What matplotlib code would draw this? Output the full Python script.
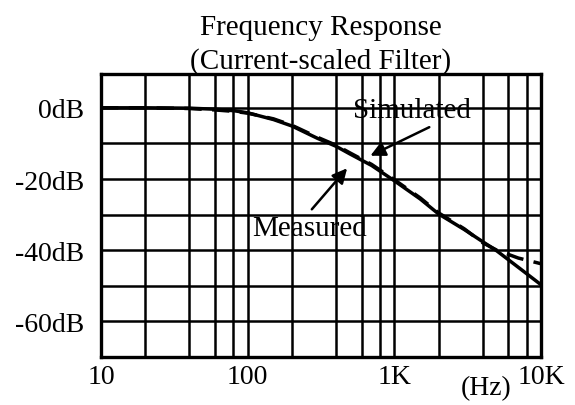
# -*- coding: utf-8 -*-

# Frequency response of the current-scaled filter, simulated vs measured

import matplotlib
matplotlib.use("Agg")
import matplotlib.pyplot as plt


# data (Hz, dB)
freq = [10, 20, 40, 60, 80, 100, 150, 200, 300, 400, 500, 700,
        1000, 1500, 2000, 3000, 4000, 5000, 7000, 10000]
simulated = [0, 0, -0.1, -0.4, -0.8, -1.4, -3.3, -5.1, -8.6, -10.8, -13.0, -16.2,
             -20.5, -25.6, -29.8, -34.2, -37.6, -40.2, -44.8, -49.7]
measured = [0, 0, -0.2, -0.6, -1.0, -1.5, -3.1, -4.9, -8.3, -10.5, -12.7, -15.9,
            -20.2, -25.3, -29.5, -34.0, -37.9, -40.0, -42.2, -43.8]

x_ticks = [10, 100, 1000, 10000]
x_tick_labels = ["10", "100", "1K", "10K"]
y_ticks = [0, -20, -40, -60]
y_tick_labels = ["0dB", "-20dB", "-40dB", "-60dB"]

# grid lines: 2, 4, 6, 8, 10 in each decade; every 10 dB
x_grid = [m * d for d in (10, 100, 1000) for m in (2, 4, 6, 8, 10)]
y_grid = [0, -10, -20, -30, -40, -50, -60]


plt.rcParams['font.family'] = ['Liberation Serif', 'DejaVu Serif']

fig = plt.figure(figsize=(5.75, 4.06), dpi=100)
ax = fig.add_axes([0.1757, 0.1182, 0.7652, 0.6971])

ax.set_xscale('log')
ax.set_xlim(10, 10000)
ax.set_ylim(-70, 9.5)

# grid
for g in x_grid:
    ax.axvline(g, color='black', linewidth=1.8, zorder=1)
for g in y_grid:
    ax.axhline(g, color='black', linewidth=1.8, zorder=1)

# curves
ax.plot(freq, simulated, color='black', linewidth=2.5, zorder=3)
ax.plot(freq, measured, color='black', linewidth=2.5, dashes=(5, 3), zorder=3)

# ticks
ax.set_xticks(x_ticks)
ax.set_xticklabels(x_tick_labels)
ax.set_yticks(y_ticks)
ax.set_yticklabels(y_tick_labels)
ax.xaxis.set_minor_locator(matplotlib.ticker.NullLocator())
ax.tick_params(axis='both', length=0, labelsize=20)
ax.tick_params(axis='x', pad=5)
ax.tick_params(axis='y', pad=12)

for s in ax.spines.values():
    s.set_linewidth(2.4)

# title
ax.set_title("Frequency Response\n(Current-scaled Filter)", fontsize=21,
             linespacing=1.35, pad=4)

# annotations
ax.annotate("", xy=(660, -13.8), xytext=(1800, -5.1),
            arrowprops=dict(arrowstyle='-|>', color='black', lw=1.8,
                            mutation_scale=22), zorder=4)
ax.annotate("", xy=(490, -16.4), xytext=(266, -29.1),
            arrowprops=dict(arrowstyle='-|>', color='black', lw=1.8,
                            mutation_scale=22), zorder=4)
ax.text(520, -0.6, "Simulated", fontsize=21, ha='left', va='center', zorder=5)
ax.text(108, -33.9, "Measured", fontsize=21, ha='left', va='center', zorder=5)

# unit label
fig.text(486 / 575, 1 - 389 / 406, "(Hz)", fontsize=20, ha='center', va='center')

fig.savefig("out.png", dpi=100)
